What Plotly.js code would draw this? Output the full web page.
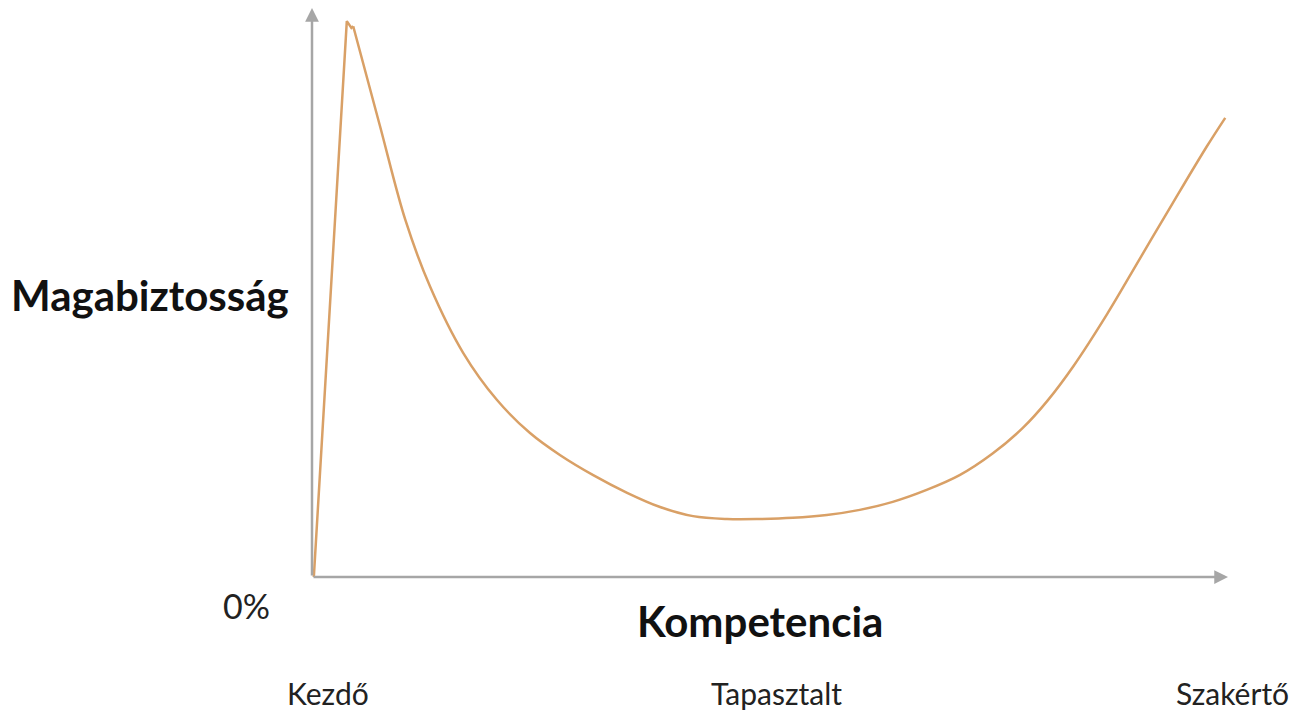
<!DOCTYPE html>
<html>
<head>
<meta charset="utf-8">
<script src="https://cdn.plot.ly/plotly-3.0.1.min.js"></script>
<style>html,body{margin:0;padding:0;background:#fff;}#chart{width:1298px;height:710px;}</style>
</head>
<body>
<div id="chart"></div>
<script>
// Competence (0-100) vs confidence (0-100 %)
const riseX = [0.2, 3.8, 4.3, 4.5];
const riseY = [0, 97.7, 96.5, 96.8];
const curveX = [4.5, 7.4, 10.2, 12.9, 16.5, 20.2, 23.8, 27.1, 30.7, 34.4, 38.0, 41.6, 45.3, 48.9, 52.5, 56.2, 59.8, 63.4, 67.1, 70.7, 74.3, 77.6, 80.3, 83.1, 86.8, 90.4, 94.0, 97.7, 99.7];
const curveY = [96.8, 79.4, 62.7, 51.0, 39.4, 31.1, 25.3, 21.4, 17.9, 14.8, 12.3, 10.7, 10.2, 10.2, 10.4, 10.9, 11.8, 13.2, 15.3, 17.9, 21.7, 26.2, 31.0, 37.0, 46.2, 56.0, 65.8, 75.7, 80.7];
const stageLabels = ["Kezdő", "Tapasztalt", "Szakértő"];
const yTitle = "Magabiztosság";
const xTitle = "Kompetencia";
const zeroLabel = "0%";

const lineColor = "#D9A066";
const axisColor = "#A6A6A6";
const fontFam = "Lato, 'Open Sans', sans-serif";

const traces = [
  {x: riseX, y: riseY, mode: "lines", line: {color: lineColor, width: 2.5, shape: "linear"}, hoverinfo: "skip"},
  {x: curveX, y: curveY, mode: "lines", line: {color: lineColor, width: 2.5, shape: "spline", smoothing: 1.0}, hoverinfo: "skip"}
];

const stagePos = [0.0175, 0.5066, 1.0044];
const annotations = [
  {x: 0, y: 100, ax: 0, ay: 0, xref: "x", yref: "y", axref: "x", ayref: "y", showarrow: true, arrowhead: 2, arrowsize: 1.1, arrowwidth: 2.5, arrowcolor: axisColor, text: ""},
  {x: 100, y: 0, ax: 0, ay: 0, xref: "x", yref: "y", axref: "x", ayref: "y", showarrow: true, arrowhead: 2, arrowsize: 1.1, arrowwidth: 2.5, arrowcolor: axisColor, text: ""},
  {x: -0.177, y: 0.496, xref: "paper", yref: "paper", text: "<b>" + yTitle + "</b>", showarrow: false, xanchor: "center", yanchor: "middle", font: {family: fontFam, size: 42, color: "#111"}},
  {x: 0.489, y: -0.078, xref: "paper", yref: "paper", text: "<b>" + xTitle + "</b>", showarrow: false, xanchor: "center", yanchor: "middle", font: {family: fontFam, size: 42, color: "#111"}},
  {x: -0.072, y: -0.05, xref: "paper", yref: "paper", text: zeroLabel, showarrow: false, xanchor: "center", yanchor: "middle", font: {family: fontFam, size: 34, color: "#222"}}
];
stageLabels.forEach((t, i) => {
  annotations.push({x: stagePos[i], y: -0.203, xref: "paper", yref: "paper", text: t, showarrow: false, xanchor: "center", yanchor: "middle", font: {family: fontFam, size: 30, color: "#222"}});
});

const layout = {
  width: 1298, height: 710,
  margin: {l: 312, r: 70, t: 8, b: 133},
  paper_bgcolor: "#fff", plot_bgcolor: "#fff",
  showlegend: false,
  xaxis: {range: [0, 100], showgrid: false, zeroline: false, showline: false, showticklabels: false, ticks: ""},
  yaxis: {range: [0, 100], showgrid: false, zeroline: false, showline: false, showticklabels: false, ticks: ""},
  annotations: annotations
};
Plotly.newPlot("chart", traces, layout, {displayModeBar: false, staticPlot: true});
</script>
</body>
</html>
